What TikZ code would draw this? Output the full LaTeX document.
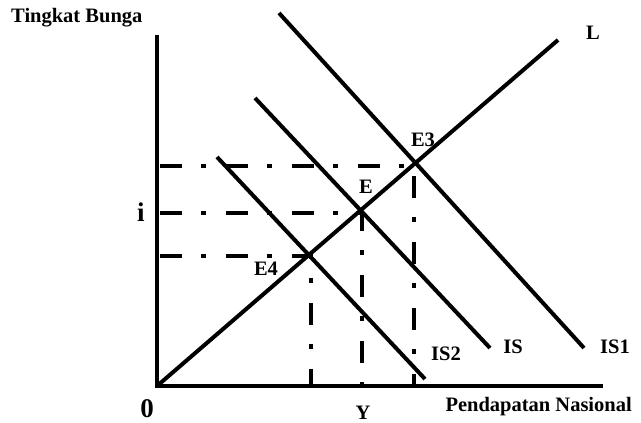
\documentclass[tikz,border=0pt]{standalone}
\usepackage{fontspec}
\setmainfont{Liberation Serif}
\begin{document}
\begin{tikzpicture}[x=1pt,y=-1pt,
  axis/.style={line width=4.5pt},
  curve/.style={line width=4pt},
  guide/.style={line width=4pt,dash pattern=on 22pt off 19pt on 5pt off 20pt},
  lbl/.style={font=\bfseries\fontsize{20.5}{22}\selectfont,inner sep=0pt},
  big/.style={font=\bfseries\fontsize{27}{29}\selectfont,inner sep=0pt}]
\useasboundingbox (0,0) rectangle (641,423);
% axes
\coordinate (top) at (157,35);
\coordinate (O) at (157,386);
\coordinate (xend) at (603,386);
\draw[axis] (top) -- (O) -- (xend);
% equilibrium points
\coordinate (E3) at (414,166);
\coordinate (E) at (362,213);
\coordinate (E4) at (311,256);
% guide lines
\coordinate (yE3) at (160,166);
\coordinate (yE) at (160,213);
\coordinate (yE4) at (160,256);
\coordinate (xE3) at (414,384);
\coordinate (xE) at (362,384);
\coordinate (xE4) at (311,384);
\draw[guide] (yE3) -- (E3) -- (xE3);
\draw[guide] (yE) -- (E) -- (xE);
\draw[guide] (yE4) -- (E4) -- (xE4);
% curves
\coordinate (Lend) at (558,40);
\draw[curve] (O) -- (Lend);
\coordinate (IS1a) at (279,13);
\coordinate (IS1b) at (584,348);
\draw[curve] (IS1a) -- (IS1b);
\coordinate (ISa) at (255,98);
\coordinate (ISb) at (490,348);
\draw[curve] (ISa) -- (ISb);
\coordinate (IS2a) at (217,157);
\coordinate (IS2b) at (425,379);
\draw[curve] (IS2a) -- (IS2b);
% labels
\node[lbl,anchor=west] (tb) at (11,18) {Tingkat Bunga};
\node[lbl] (lL) at (593,33) {L};
\node[lbl] (lE3) at (423,140) {E3};
\node[lbl] (lE) at (366,187) {E};
\node[lbl] (lE4) at (266,269) {E4};
\node[lbl] (lIS) at (513,347) {IS};
\node[lbl] (lIS1) at (615,347) {IS1};
\node[lbl] (lIS2) at (446,354) {IS2};
\node[lbl,anchor=east] (pn) at (632,407) {Pendapatan Nasional};
\node[lbl] (lY) at (363,413) {Y};
\node[big] (li) at (141,212) {i};
\node[big] (l0) at (147,409) {0};
\end{tikzpicture}
\end{document}
